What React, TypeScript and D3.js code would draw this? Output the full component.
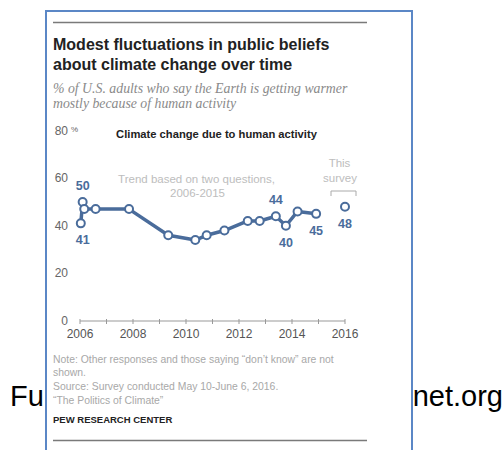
import React from "react";
import * as d3 from "d3";

const trendYears = [2006.03, 2006.1, 2006.16, 2006.59, 2007.85, 2009.33, 2010.35, 2010.78, 2011.45, 2012.33, 2012.78, 2013.39, 2013.77, 2014.21, 2014.91];
const trendValues = [41, 50, 47, 47, 47, 36, 34, 36, 38, 42, 42, 44, 40, 46, 45];
const surveyYear = 2016;
const surveyValue = 48;
const labeledIdx = [0, 1, 11, 12, 14];
const labeledPos = ["below", "above", "above", "below", "below"];
const xTicks = [2006, 2007, 2008, 2009, 2010, 2011, 2012, 2013, 2014, 2015, 2016];
const xTickLabels = [2006, 2008, 2010, 2012, 2014, 2016];
const yTicks = [0, 20, 40, 60, 80];

const BLUE = "#4a6c9b";

export default function App() {
  const x = d3.scaleLinear().domain([2006, 2016]).range([80, 345]);
  const y = d3.scaleLinear().domain([0, 80]).range([321, 130.5]);
  const line = d3
    .line<number>()
    .x((_, i) => x(trendYears[i]))
    .y((d) => y(d));
  const sans = "'Liberation Sans', Arial, sans-serif";
  return (
    <svg width={504} height={450} style={{ position: "absolute", left: 0, top: 0 }} fontFamily={sans}>
      <rect x={0} y={0} width={504} height={450} fill="#fff" />
      <text x={10} y={406} fontSize={29} fill="#000">Fu</text>
      <text x={503} y={406} fontSize={29} fill="#000" textAnchor="end">net.org</text>
      <rect x={46} y={11} width={366} height={460} fill="#fff" stroke="#5b87c6" strokeWidth={2} />
      <line x1={53} x2={367} y1={22.5} y2={22.5} stroke="#7a7a7a" strokeWidth={1.5} />
      <text x={53} y={49.5} fontSize={16} fontWeight="bold" fill="#222">Modest fluctuations  in public beliefs</text>
      <text x={53} y={70} fontSize={16} fontWeight="bold" fill="#222">about climate change  over time</text>
      <g fontFamily="'Liberation Serif', 'DejaVu Serif', serif" fontStyle="italic" fill="#8a8a8a" fontSize={13.8}>
        <text x={53} y={93}>% of U.S. adults who say the Earth is getting warmer</text>
        <text x={53} y={108}>mostly because of human activity</text>
      </g>
      <text x={216.5} y={138} fontSize={11.2} fontWeight="bold" fill="#222" textAnchor="middle">Climate change due to  human activity</text>
      <g fontSize={12} fill="#666">
        {yTicks.map((t) => (
          <text key={t} x={68} y={y(t) + 4} textAnchor="end">{t}</text>
        ))}
        <text x={71} y={y(80) + 1} fontSize={8}>%</text>
      </g>
      <line x1={x(2006)} x2={x(2016)} y1={y(0)} y2={y(0)} stroke="#999" strokeWidth={1} />
      {xTicks.map((t) => (
        <line key={t} x1={x(t)} x2={x(t)} y1={y(0) - 2} y2={y(0) + 3} stroke="#999" strokeWidth={1} />
      ))}
      <g fontSize={12} fill="#555" textAnchor="middle">
        {xTickLabels.map((t) => (
          <text key={t} x={x(t)} y={338}>{t}</text>
        ))}
      </g>
      <g fontSize={11.5} fill="#bdbdbd" textAnchor="middle">
        <text x={196.5} y={183}>Trend based on two questions,</text>
        <text x={197.5} y={197}>2006-2015</text>
        <text x={339.5} y={167}>This</text>
        <text x={340} y={182}>survey</text>
      </g>
      <path d="M331,196 V191 H356 V196" fill="none" stroke="#aaa" strokeWidth={1} />
      <path d={line(trendValues) || ""} fill="none" stroke={BLUE} strokeWidth={3.5} strokeLinejoin="round" />
      {trendValues.map((v, i) => (
        <circle key={i} cx={x(trendYears[i])} cy={y(v)} r={4} fill="#fff" stroke={BLUE} strokeWidth={2} />
      ))}
      <circle cx={x(surveyYear)} cy={y(surveyValue)} r={4} fill="#fff" stroke={BLUE} strokeWidth={2} />
      <g fontSize={12.5} fontWeight="bold" fill={BLUE} textAnchor="middle">
        {labeledIdx.map((idx, k) => (
          <text key={idx} x={x(trendYears[idx]) + (idx === 0 ? 2 : 0)} y={y(trendValues[idx]) + (labeledPos[k] === "above" ? -12 : 21)}>
            {trendValues[idx]}
          </text>
        ))}
        <text x={x(surveyYear)} y={y(surveyValue) + 21.5}>{surveyValue}</text>
      </g>
      <g fontSize={10.4} fill="#a8a8a8">
        <text x={53} y={362.5}>Note: Other responses and those saying “don’t know” are not</text>
        <text x={53} y={376}>shown.</text>
        <text x={53} y={390}>Source: Survey conducted May 10-June 6, 2016.</text>
        <text x={53} y={404}>“The Politics of Climate”</text>
      </g>
      <text x={53} y={422.5} fontSize={9.5} fontWeight="bold" fill="#222">PEW RESEARCH CENTER</text>
      <line x1={53} x2={367} y1={440.5} y2={440.5} stroke="#7a7a7a" strokeWidth={1.5} />
    </svg>
  );
}
